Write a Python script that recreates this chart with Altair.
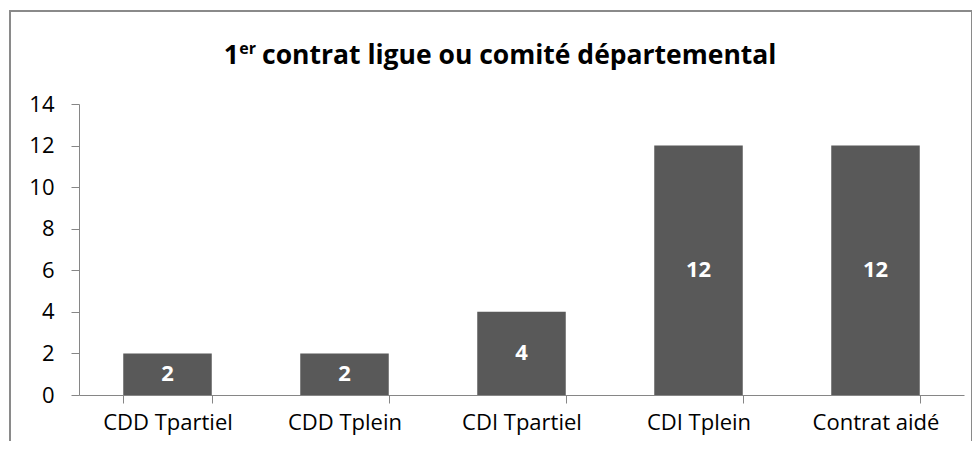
import altair as alt
import pandas as pd

categories = ["CDD Tpartiel", "CDD Tplein", "CDI Tpartiel", "CDI Tplein", "Contrat aidé"]
values = [2, 2, 4, 12, 12]
y_ticks = [0, 2, 4, 6, 8, 10, 12, 14]
title_num = "1"
title_sup = "er"
title_rest = "contrat ligue ou comité départemental"

df = pd.DataFrame({"cat": categories, "val": values})
tdf = pd.DataFrame({"num": [title_num], "sup": [title_sup], "rest": [title_rest]})

FONT = "Open Sans"
GRAY = "#868686"

x_enc = alt.X("cat:N", sort=categories, title=None,
              scale=alt.Scale(paddingInner=0.5, paddingOuter=0.25),
              axis=alt.Axis(labelAngle=0, tickBand="extent", labelFontSize=22,
                            labelFont=FONT, labelColor="#000000", labelPadding=9,
                            domainColor=GRAY, tickColor=GRAY, tickSize=8,
                            grid=False))
y_enc = alt.Y("val:Q", title=None,
              scale=alt.Scale(domain=[0, 14], nice=False),
              axis=alt.Axis(values=y_ticks, labelFontSize=22, labelFont=FONT,
                            labelColor="#000000", labelPadding=17, domainColor=GRAY,
                            tickColor=GRAY, tickSize=8, grid=False))

base = alt.Chart(df)

frame = base.mark_rect(filled=False, stroke="#8a8a8a", strokeWidth=1.5, clip=False).encode(
    x=alt.value(-69), x2=alt.value(893), y=alt.value(-93), y2=alt.value(400)
)

tbase = alt.Chart(tdf)
t_rest = tbase.mark_text(fontSize=26.5, font=FONT, fontWeight="bold", color="#000000",
                         align="left", baseline="alphabetic").encode(
    x=alt.value(183), y=alt.value(-40), text="rest:N"
)
t_sup = tbase.mark_text(fontSize=16, font=FONT, fontWeight="bold", color="#000000",
                        align="right", baseline="alphabetic").encode(
    x=alt.value(177), y=alt.value(-50), text="sup:N"
)
t_num = tbase.mark_text(fontSize=26.5, font=FONT, fontWeight="bold", color="#000000",
                        align="right", baseline="alphabetic").encode(
    x=alt.value(160), y=alt.value(-40), text="num:N"
)

bars = base.mark_bar(color="#595959").encode(x=x_enc, y=y_enc)

labels = base.transform_filter("datum.val > 0").transform_calculate(
    mid="datum.val / 2"
).mark_text(color="white", fontWeight="bold", fontSize=22, font=FONT, baseline="middle").encode(
    x=alt.X("cat:N", sort=categories),
    y=alt.Y("mid:Q"),
    text=alt.Text("val:Q"),
)

chart = alt.layer(frame, bars, labels, t_rest, t_sup, t_num).properties(
    width=885,
    height=291,
    padding={"left": 71, "top": 96, "right": 8, "bottom": 46},
    autosize=alt.AutoSizeParams(type="none"),
).configure(background="white").configure_view(stroke="transparent", strokeWidth=0)

chart.save("out.html", embed_options={"renderer": "svg", "actions": False})
